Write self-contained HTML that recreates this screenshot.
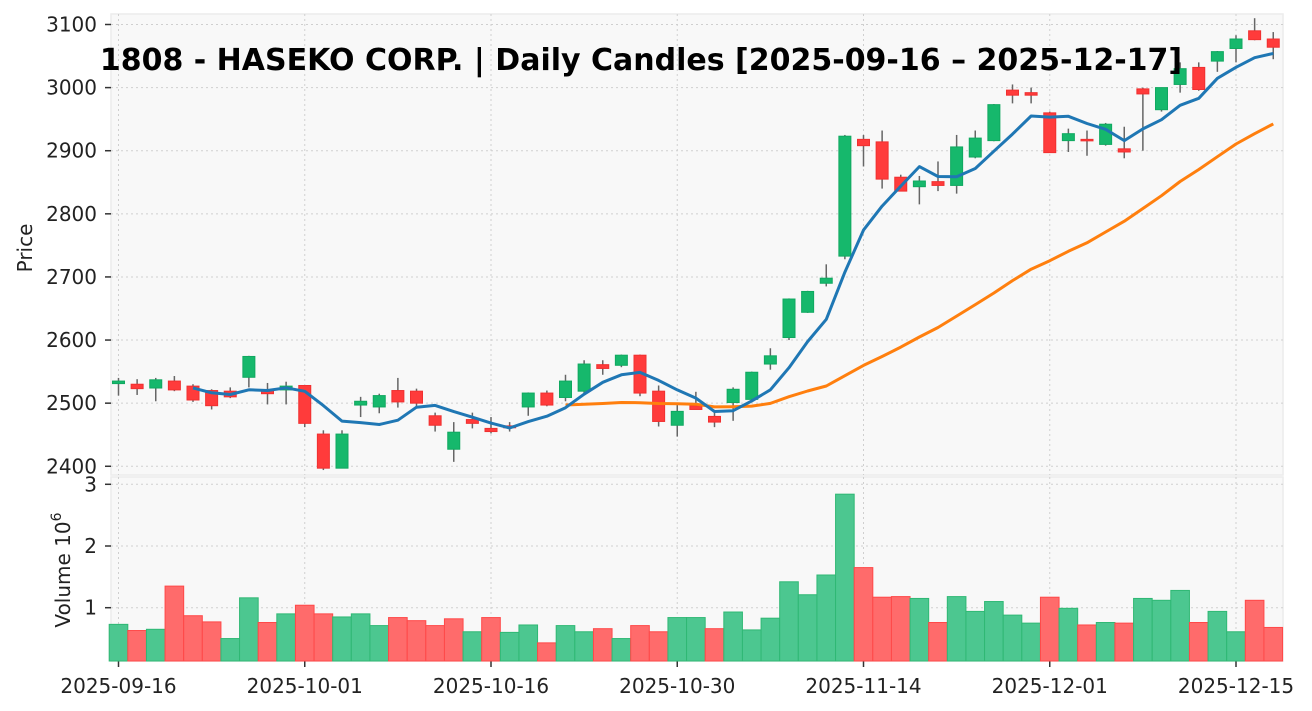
<!DOCTYPE html>
<html><head><meta charset="utf-8"><style>
html,body{margin:0;padding:0;background:#fff;}
svg{display:block;font-family:"DejaVu Sans","Liberation Sans",sans-serif;}
</style></head><body>
<svg id="chart" width="1312" height="711" xmlns="http://www.w3.org/2000/svg"></svg>
<script>
const dates=["2025-09-16","2025-09-17","2025-09-18","2025-09-19","2025-09-22","2025-09-24","2025-09-25","2025-09-26","2025-09-29","2025-09-30","2025-10-01","2025-10-02","2025-10-03","2025-10-06","2025-10-07","2025-10-08","2025-10-09","2025-10-10","2025-10-14","2025-10-15","2025-10-16","2025-10-17","2025-10-20","2025-10-21","2025-10-22","2025-10-23","2025-10-24","2025-10-27","2025-10-28","2025-10-29","2025-10-30","2025-10-31","2025-11-04","2025-11-05","2025-11-06","2025-11-07","2025-11-10","2025-11-11","2025-11-12","2025-11-13","2025-11-14","2025-11-17","2025-11-18","2025-11-19","2025-11-20","2025-11-21","2025-11-25","2025-11-26","2025-11-27","2025-11-28","2025-12-01","2025-12-02","2025-12-03","2025-12-04","2025-12-05","2025-12-08","2025-12-09","2025-12-10","2025-12-11","2025-12-12","2025-12-15","2025-12-16","2025-12-17"];
const opens=[2531,2530,2524,2535,2527,2520,2519,2541,2520,2521,2528,2451,2397,2497,2494,2520,2519,2480,2427,2474,2460,2464,2494,2516,2509,2519,2561,2560,2576,2519,2465,2496,2479,2501,2506,2562,2604,2644,2690,2733,2918,2914,2858,2843,2851,2845,2890,2916,2996,2992,2960,2916,2918,2910,2903,2998,2965,3005,3032,3042,3062,3090,3077];
const highs=[2540,2538,2540,2543,2530,2522,2525,2575,2532,2534,2528,2457,2457,2510,2515,2540,2523,2485,2470,2485,2478,2470,2517,2520,2545,2568,2568,2577,2577,2528,2497,2518,2485,2525,2550,2587,2666,2678,2720,2925,2925,2932,2862,2860,2883,2925,2932,2974,3005,3000,2962,2935,2932,2944,2938,3000,3000,3040,3040,3058,3083,3110,3088];
const lows=[2512,2513,2503,2519,2502,2490,2508,2525,2498,2498,2462,2394,2397,2478,2484,2493,2495,2455,2407,2460,2452,2455,2480,2495,2503,2515,2545,2557,2511,2463,2447,2490,2462,2472,2505,2553,2600,2643,2685,2728,2875,2840,2836,2815,2836,2832,2888,2915,2975,2975,2897,2898,2892,2908,2888,2900,2962,2992,2995,3025,3040,3075,3045];
const closes=[2535,2523,2537,2521,2505,2496,2510,2574,2515,2527,2468,2397,2451,2503,2512,2502,2500,2465,2454,2468,2455,2461,2516,2497,2535,2562,2555,2576,2516,2471,2487,2490,2470,2522,2549,2575,2665,2677,2698,2923,2908,2855,2836,2852,2845,2906,2920,2973,2988,2988,2897,2927,2916,2942,2898,2990,3000,3030,2997,3057,3077,3076,3064];
const volumes=[0.73,0.63,0.65,1.35,0.87,0.77,0.5,1.16,0.76,0.9,1.04,0.9,0.85,0.9,0.71,0.84,0.79,0.71,0.82,0.61,0.84,0.6,0.72,0.43,0.71,0.61,0.66,0.5,0.71,0.61,0.84,0.84,0.66,0.93,0.64,0.83,1.42,1.21,1.53,2.84,1.65,1.17,1.18,1.15,0.76,1.18,0.94,1.1,0.88,0.75,1.17,0.99,0.72,0.76,0.75,1.15,1.12,1.28,0.76,0.94,0.61,1.12,0.68];
const priceTicks=[2400,2500,2600,2700,2800,2900,3000,3100];
const volTicks=[1,2,3];
const xTickLabels=["2025-09-16","2025-10-01","2025-10-16","2025-10-30","2025-11-14","2025-12-01","2025-12-15"];

const svg=document.getElementById('chart');
const NS="http://www.w3.org/2000/svg";
function mk(tag,attrs,parent){const e=document.createElementNS(NS,tag);for(const k in attrs)e.setAttribute(k,attrs[k]);(parent||svg).appendChild(e);return e;}
const L=111,R=1283,PT=14,PB=475,VT=477,VB=661;
const x0=118.5,pitch=18.625;
const xs=i=>x0+i*pitch;
const yP=p=>24.5+(3100-p)*0.6311;
const yV=v=>669.4-v*61.7;
const FS=20;

let p1=mk('rect',{x:L,y:PT,width:R-L,height:PB-PT,fill:'#f8f8f8',stroke:'#ececec','stroke-width':1.5});


let p2=mk('rect',{x:L,y:VT,width:R-L,height:VB-VT,fill:'#f8f8f8',stroke:'#ececec','stroke-width':1.5});



xTickLabels.forEach(d=>{const i=dates.indexOf(d);const x=xs(i);
  let g1=mk('line',{x1:x,x2:x,y1:PT,y2:PB,stroke:'#cfcfcf','stroke-dasharray':'2,3'});
  
  
  let g2=mk('line',{x1:x,x2:x,y1:VT,y2:VB,stroke:'#cfcfcf','stroke-dasharray':'2,3'});
  
  
  let tk=mk('line',{x1:x,x2:x,y1:VB,y2:VB+6,stroke:'#333','stroke-width':1.5});
  
  
  let t=mk('text',{x:x,y:VB+32,'text-anchor':'middle','font-size':FS,fill:'#222'});t.textContent=d;
  
  
});
priceTicks.forEach(p=>{const y=yP(p);
  let g=mk('line',{x1:L,x2:R,y1:y,y2:y,stroke:'#cfcfcf','stroke-dasharray':'2,3'});
  
  
  let tk=mk('line',{x1:L-6,x2:L,y1:y,y2:y,stroke:'#333','stroke-width':1.5});
  
  
  let t=mk('text',{x:L-14,y:y+7,'text-anchor':'end','font-size':FS,fill:'#222'});t.textContent=p;
  
  
});
volTicks.forEach(v=>{const y=yV(v);
  let g=mk('line',{x1:L,x2:R,y1:y,y2:y,stroke:'#cfcfcf','stroke-dasharray':'2,3'});
  
  
  let tk=mk('line',{x1:L-6,x2:L,y1:y,y2:y,stroke:'#333','stroke-width':1.5});
  
  
  let t=mk('text',{x:L-14,y:y+7,'text-anchor':'end','font-size':FS,fill:'#222'});t.textContent=v;
  
  
});

volumes.forEach((v,i)=>{const up=i===0?closes[0]>=opens[0]:closes[i]>=closes[i-1];
  const y=Math.max(yV(v),VT);
  let b=mk('rect',{x:xs(i)-pitch/2,y:y,width:pitch,height:VB-y,fill:up?'#4cc790':'#ff6b6b',stroke:up?'#2fb874':'#ff4848','stroke-width':1});
  
  
});

const cg=mk('g',{});


closes.forEach((c,i)=>{const o=opens[i];const up=c>=o;const col=up?'#16b86c':'#ff3b3b';const x=xs(i);
  let w=mk('line',{x1:x,x2:x,y1:yP(highs[i]),y2:yP(lows[i]),stroke:'#666','stroke-width':1.5},cg);
  
  
  const yt=yP(Math.max(o,c)),yb=yP(Math.min(o,c));
  let b=mk('rect',{x:x-6,y:yt,width:12,height:Math.max(yb-yt,1.5),fill:col,stroke:up?'#10a860':'#f03030','stroke-width':1},cg);
  
  
});

function ma(n){return closes.map((c,i)=>i<n-1?null:closes.slice(i-n+1,i+1).reduce((a,b)=>a+b,0)/n);}
function drawMA(vals,color,name){let d='';vals.forEach((v,i)=>{if(v==null)return;d+=(d?'L':'M')+xs(i).toFixed(1)+','+yP(v).toFixed(1);});
  let p=mk('path',{d:d,fill:'none',stroke:color,'stroke-width':3,'stroke-linejoin':'round'});
  
  
}
drawMA(ma(25),'#ff7f0e','ma25-line');
drawMA(ma(5),'#1f77b4','ma5-line');

let title=mk('text',{x:641,y:70,'text-anchor':'middle','font-size':30,'font-weight':'bold',fill:'#000'});
title.textContent='1808 - HASEKO CORP. | Daily Candles [2025-09-16 – 2025-12-17]';


let yl=mk('text',{x:0,y:0,transform:'translate(32,248) rotate(-90)','text-anchor':'middle','font-size':FS,fill:'#222'});
yl.textContent='Price';


let vl=mk('text',{x:0,y:0,transform:'translate(70,570) rotate(-90)','text-anchor':'middle','font-size':FS,fill:'#222'});
vl.innerHTML='Volume  10<tspan dy="-9" font-size="14">6</tspan>';


</script>
</body></html>
